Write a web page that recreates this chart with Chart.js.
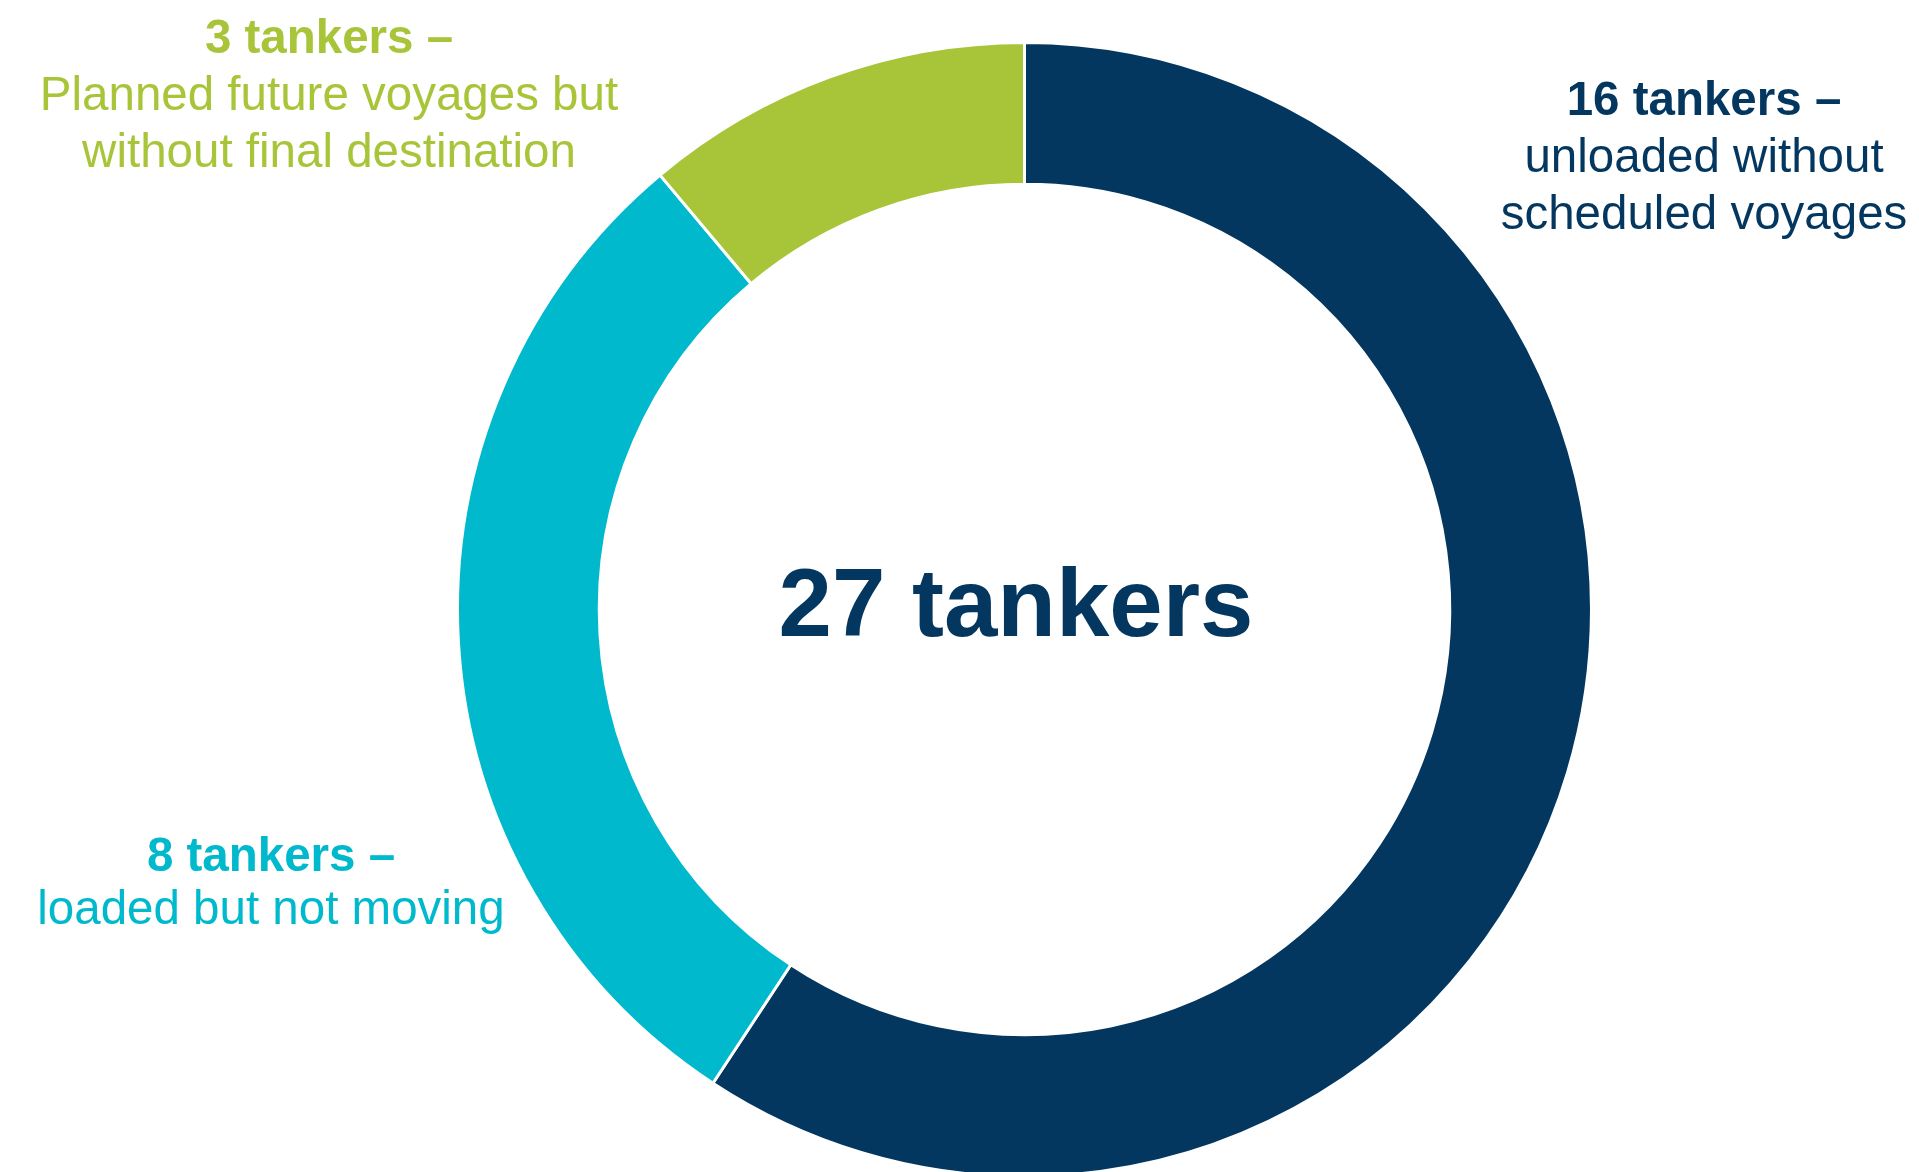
<!DOCTYPE html>
<html lang="en">
<head>
  <meta charset="UTF-8">
  <title>Tankers</title>
  <script src="https://cdn.jsdelivr.net/npm/chart.js"></script>
  <style>
    html, body {
      margin: 0;
      padding: 0;
      width: 1919px;
      height: 1172px;
      overflow: hidden;
      background: #ffffff;
      font-family: "Liberation Sans", Arial, sans-serif;
    }
    #chart-wrap {
      position: absolute;
      left: 0;
      top: 0;
      width: 1919px;
      height: 1219px;
    }
    .label {
      position: absolute;
      width: 700px;
      margin-left: -350px;
      text-align: center;
      font-size: 47.5px;
      line-height: 57px;
      white-space: nowrap;
    }
    .label b { font-weight: bold; }
    #total {
      position: absolute;
      left: 1016px;
      top: 555px;
      width: 800px;
      margin-left: -400px;
      text-align: center;
      font-size: 96px;
      line-height: 96px;
      font-weight: bold;
      color: #03375F;
      white-space: nowrap;
    }
  </style>
</head>
<body>
  <div id="chart-wrap"><canvas id="tankerChart"></canvas></div>

  <div id="total"></div>
  <div class="label" id="label-0" style="left:1704px; top:70px;"></div>
  <div class="label" id="label-1" style="left:271px; top:828px; line-height:53px;"></div>
  <div class="label" id="label-2" style="left:329px; top:8px;"></div>

  <script>
    // data
    const categories = ["Unloaded, no scheduled voyages", "Loaded, not moving", "Planned voyages, no final destination"];
    const tankerCounts = [16, 8, 3];
    const descLines = [
      ["unloaded without", "scheduled voyages"],
      ["loaded but not moving"],
      ["Planned future voyages but", "without final destination"]
    ];
    const sliceColors = ["#03375F", "#00B9CC", "#A8C53A"];

    const total = tankerCounts.reduce((a, b) => a + b, 0);
    document.getElementById("total").textContent = total + " tankers";

    tankerCounts.forEach((n, i) => {
      const el = document.getElementById("label-" + i);
      el.style.color = sliceColors[i];
      el.innerHTML = "<b>" + n + " tankers \u2013</b><br>" + descLines[i].join("<br>");
    });

    const ctx = document.getElementById("tankerChart").getContext("2d");
    new Chart(ctx, {
      type: "doughnut",
      data: {
        labels: categories,
        datasets: [{
          data: tankerCounts,
          backgroundColor: sliceColors,
          borderColor: "#ffffff",
          borderWidth: 3,
          hoverOffset: 0
        }]
      },
      options: {
        responsive: true,
        maintainAspectRatio: false,
        animation: false,
        radius: 567,
        cutout: "75%",
        layout: { padding: { left: 130 } },
        plugins: {
          legend: { display: false },
          tooltip: { enabled: false }
        }
      }
    });
  </script>
</body>
</html>
